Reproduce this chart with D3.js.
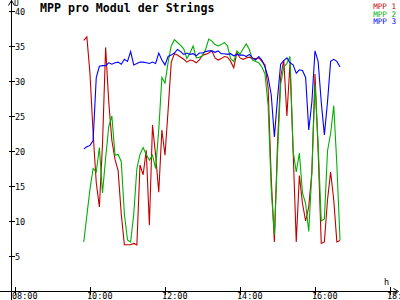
<!DOCTYPE html>
<html><head><meta charset="utf-8">
<script src="https://cdn.jsdelivr.net/npm/d3@7"></script>
<style>html,body{margin:0;padding:0;background:#fff;}svg{display:block;}</style>
</head><body>
<svg id="c" width="400" height="300"></svg>
<script>
const times = ["09:50","09:55","10:00","10:05","10:10","10:15","10:20","10:25","10:30","10:35","10:40","10:45",
"10:50","10:55","11:00","11:05","11:10","11:15","11:20","11:25","11:30","11:35","11:40","11:45",
"11:50","11:55","12:00","12:05","12:10","12:15","12:20","12:25","12:30","12:35","12:40","12:45",
"12:50","12:55","13:00","13:05","13:10","13:15","13:20","13:25","13:30","13:35","13:40","13:45",
"13:50","13:55","14:00","14:05","14:10","14:15","14:20","14:25","14:30","14:35","14:40","14:45",
"14:50","14:55","15:00","15:05","15:10","15:15","15:20","15:25","15:30","15:35","15:40","15:45",
"15:50","15:55","16:00","16:05","16:10","16:15","16:20","16:25","16:30","16:35","16:40"];
const mpp1 = [35.8,36.3,31,22.5,15.5,12,21,34.8,27,21.5,18.8,17.2,11,6.6,6.6,6.6,6.8,6.6,18,16.6,20.1,9.4,23.7,19.4,
14.1,23,19.4,25.9,32.7,33.9,33.7,33.4,33.1,32.7,33,32.9,32.6,33,33.7,33.8,34,34.3,33.3,33,33.2,33.5,33.4,32.8,
31.9,34.1,33.3,33.1,33.3,33.4,33.2,33.2,33.3,32.8,32.3,29,16,7,21,30.5,33,25,32.5,20,7,16.5,12.5,10,
12,17,31,20,6.8,7,13,17,13,7,7.2];
const mpp2 = [7,10.8,14.6,17.5,17,20.5,14,19,23.5,25,19.4,19.5,18.5,11,7.3,7,11,17.5,19.5,20.5,19.5,18.7,19.4,17.5,
23,30.5,29.7,32.7,35,35.9,35.5,35.1,34.6,33.2,34,35,33.3,33.4,33.6,34.5,36,35.7,35.2,35,35.2,35.5,35,33.2,
32.8,34.3,33.8,34.6,35.3,34.5,33,32.8,32.6,32,31,26.5,14.5,8,19.5,29.5,32,32.5,33.5,20,17,19.7,14,12.5,
8.5,17,29.5,21,10,10.3,20,22.5,26.5,18,7.3];
const mpp3 = [20.3,20.6,20.8,21.5,30.5,32.1,32.2,32.2,32.6,32.4,32.6,32.7,32.4,33.1,32.8,34.2,32.3,32.5,32.7,32.7,32.6,32.5,32.7,32.5,
34,33,32.3,33.5,33.7,34,34.5,34.2,33.8,34,33.8,33.9,33.6,34,34,34.2,34.3,34.3,34.1,34.3,33.9,33.9,33.8,33.9,
33.6,33.8,33.7,33.7,33.5,33.8,33.3,33,33.5,33,32,30.5,28,22,27.5,32.4,32.9,33.3,32.6,32.3,31.1,31.6,31.5,30.5,
23,27,34.3,32.8,27,22.3,27,32.8,33.1,32.8,32];
const seriesNames = ["MPP 1","MPP 2","MPP 3"];
const seriesColors = ["#c00000","#00b000","#0000ff"];
const yTicks = [5,10,15,20,25,30,35,40];
const xTicks = [8,10,12,14,16,18];
const xTickLabels = ["08:00","10:00","12:00","14:00","16:00","18:"];

const svg = d3.select("#c");
const x = d3.scaleLinear().domain([8,18]).range([15,390]);
const y = d3.scaleLinear().domain([0,40]).range([291,11]);
const toH = s => { const [h,m] = s.split(":").map(Number); return h + m/60; };
const font = "DejaVu Sans Mono, monospace";

// axes lines
const ax = svg.append("g").attr("stroke","#000").attr("stroke-width",1).attr("shape-rendering","crispEdges");
ax.append("line").attr("x1",11.5).attr("x2",11.5).attr("y1",0).attr("y2",300);
ax.append("line").attr("x1",0).attr("x2",397).attr("y1",291.5).attr("y2",291.5);
svg.append("path").attr("d","M8.5,5.5 L11.5,0.5 L14.5,5.5").attr("fill","none").attr("stroke","#000");
svg.append("path").attr("d","M393.5,288.5 L398.5,291.5 L393.5,294.5").attr("fill","none").attr("stroke","#000");

// y ticks
yTicks.forEach(v => {
  ax.append("line").attr("x1",9).attr("x2",15).attr("y1",Math.round(y(v))+0.5).attr("y2",Math.round(y(v))+0.5);
  svg.append("text").attr("x",15).attr("y",Math.round(y(v))+3.5).text(v)
    .attr("font-family",font).attr("font-size",8.5).attr("fill","#000");
});
// x ticks
xTicks.forEach((v,i) => {
  ax.append("line").attr("x1",Math.round(x(v))+0.5).attr("x2",Math.round(x(v))+0.5).attr("y1",287).attr("y2",295);
  svg.append("text").attr("x",x(v)-3).attr("y",298.5).text(xTickLabels[i])
    .attr("font-family",font).attr("font-size",8.5).attr("fill","#000");
});
svg.append("text").attr("x",14).attr("y",6).text("U").attr("font-family",font).attr("font-size",8);
svg.append("text").attr("x",384).attr("y",285).text("h").attr("font-family",font).attr("font-size",8.5);

// title
svg.append("text").attr("x",40).attr("y",12).text("MPP pro Modul der Strings")
  .attr("font-family",font).attr("font-weight","bold").attr("font-size",11.6).attr("fill","#000");

// lines
const line = d3.line().x((d,i) => x(toH(times[i]))).y(d => y(d));
[mpp1,mpp2,mpp3].forEach((s,k) => {
  svg.append("path").datum(s).attr("d",line).attr("fill","none")
    .attr("stroke",seriesColors[k]).attr("stroke-width",1.1);
});

// legend
seriesNames.forEach((n,k) => {
  svg.append("text").attr("x",396).attr("y",9+k*7.5).attr("text-anchor","end").text(n)
    .attr("font-family",font).attr("font-size",7.6).attr("fill",seriesColors[k]);
});
</script>
</body></html>
